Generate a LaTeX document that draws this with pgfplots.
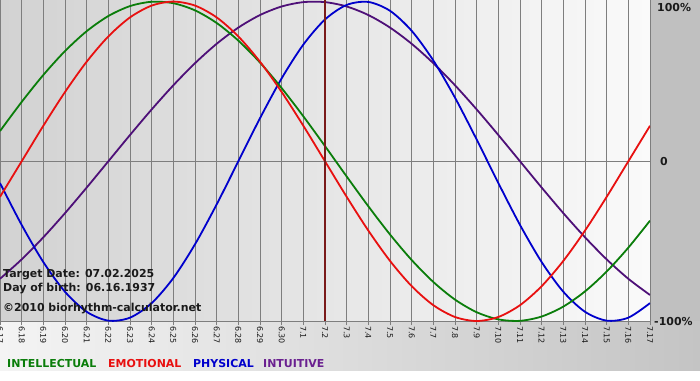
\documentclass[border=0pt]{standalone}
\usepackage{fontspec}
\setmainfont{DejaVu Sans}
\usepackage{pgfplots}
\usepackage{pgfplotstable}
\pgfplotsset{compat=1.18}
\definecolor{cInt}{HTML}{0A7D0A}
\definecolor{cEmo}{HTML}{E81010}
\definecolor{cPhy}{HTML}{0000CC}
\definecolor{cItu}{HTML}{4E1078}
\definecolor{cItuT}{HTML}{6A2090}
\definecolor{cMark}{HTML}{7A1A1A}
\definecolor{gridc}{HTML}{7E7E7E}
\definecolor{plotL}{HTML}{D2D2D2}
\definecolor{plotR}{HTML}{FAFAFA}
\definecolor{bandL}{HTML}{F4F4F4}
\definecolor{bandR}{HTML}{C4C4C4}
\definecolor{rgray}{HTML}{C0C0C0}
\definecolor{txt}{HTML}{1A1A1A}

\pgfplotstableread{
d int emo phy itu
0 0.1893 -0.2225 -0.1362 -0.7357
1 0.3717 0.0000 -0.3984 -0.6142
2 0.5406 0.2225 -0.6310 -0.4759
3 0.6901 0.4339 -0.8170 -0.3247
4 0.8146 0.6235 -0.9423 -0.1646
5 0.9096 0.7818 -0.9977 0.0000
6 0.9718 0.9010 -0.9791 0.1646
7 0.9989 0.9749 -0.8879 0.3247
8 0.9898 1.0000 -0.7308 0.4759
9 0.9450 0.9749 -0.5196 0.6142
10 0.8660 0.9010 -0.2698 0.7357
11 0.7557 0.7818 0.0000 0.8372
12 0.6182 0.6235 0.2698 0.9158
13 0.4582 0.4339 0.5196 0.9694
14 0.2817 0.2225 0.7308 0.9966
15 0.0951 0.0000 0.8879 0.9966
16 -0.0951 -0.2225 0.9791 0.9694
17 -0.2817 -0.4339 0.9977 0.9158
18 -0.4582 -0.6235 0.9423 0.8372
19 -0.6182 -0.7818 0.8170 0.7357
20 -0.7557 -0.9010 0.6310 0.6142
21 -0.8660 -0.9749 0.3984 0.4759
22 -0.9450 -1.0000 0.1362 0.3247
23 -0.9898 -0.9749 -0.1362 0.1646
24 -0.9989 -0.9010 -0.3984 0.0000
25 -0.9718 -0.7818 -0.6310 -0.1646
26 -0.9096 -0.6235 -0.8170 -0.3247
27 -0.8146 -0.4339 -0.9423 -0.4759
28 -0.6901 -0.2225 -0.9977 -0.6142
29 -0.5406 0.0000 -0.9791 -0.7357
30 -0.3717 0.2225 -0.8879 -0.8372
}\bio

\begin{document}
\begin{tikzpicture}[x=1bp,y=1bp]
\useasboundingbox (0,0) rectangle (700,380);
\fill[white] (0,0) rectangle (700,380);
\shade[left color=bandL, right color=bandR] (0,10) rectangle (700,59);
\fill[rgray] (650,59) rectangle (700,380);
\shade[left color=plotL, right color=plotR] (0,59) rectangle (650,380);
\begin{axis}[
  at={(0bp,59bp)}, anchor=south west, scale only axis,
  width=650bp, height=321bp,
  xmin=0, xmax=30, ymin=-1, ymax=1.01,
  axis line style={draw=none},
  xtick={0,...,30},
  xticklabels={6.17,6.18,6.19,6.20,6.21,6.22,6.23,6.24,6.25,6.26,6.27,6.28,6.29,6.30,7.1,7.2,7.3,7.4,7.5,7.6,7.7,7.8,7.9,7.10,7.11,7.12,7.13,7.14,7.15,7.16,7.17},
  xtick pos=bottom,
  xmajorgrids, major grid style={gridc, line width=1bp},
  tick align=outside, major tick length=4bp,
  xtick style={gridc, line width=1bp},
  xticklabel style={rotate=-90, anchor=west, font=\fontsize{8}{8}\selectfont, inner sep=1bp, text=txt},
  ytick=\empty,
]
\addplot[gridc, line width=1bp] coordinates {(0,0) (30,0)};
\addplot[gridc, line width=1bp] coordinates {(0,-1) (30,-1)};
\addplot[cItu, line width=1.8bp, smooth] table[x=d, y=itu] {\bio};
\addplot[cPhy, line width=1.8bp, smooth] table[x=d, y=phy] {\bio};
\addplot[cInt, line width=1.8bp, smooth] table[x=d, y=int] {\bio};
\addplot[cEmo, line width=1.8bp, smooth] table[x=d, y=emo] {\bio};
\addplot[cMark, line width=2bp] coordinates {(15,-1) (15,1.01)};
\end{axis}
\tikzset{bt/.style={anchor=base west, inner sep=0pt, font=\bfseries\fontsize{11}{11}\selectfont}}
\node[bt, text=txt] at (3,103) {Target Date: 07.02.2025};
\node[bt, text=txt] at (3,89) {Day of birth: 06.16.1937};
\node[bt, text=txt] at (3,69) {©2010 biorhythm-calculator.net};
\node[bt, text=cInt] at (7,13) {INTELLECTUAL};
\node[bt, text=cEmo] at (108,13) {EMOTIONAL};
\node[bt, text=cPhy] at (193,13) {PHYSICAL};
\node[bt, text=cItuT] at (263,13) {INTUITIVE};
\node[bt, text=txt] at (657,369) {100\%};
\node[bt, text=txt] at (660,215) {0};
\node[bt, text=txt] at (654,55) {-100\%};
\end{tikzpicture}
\end{document}
